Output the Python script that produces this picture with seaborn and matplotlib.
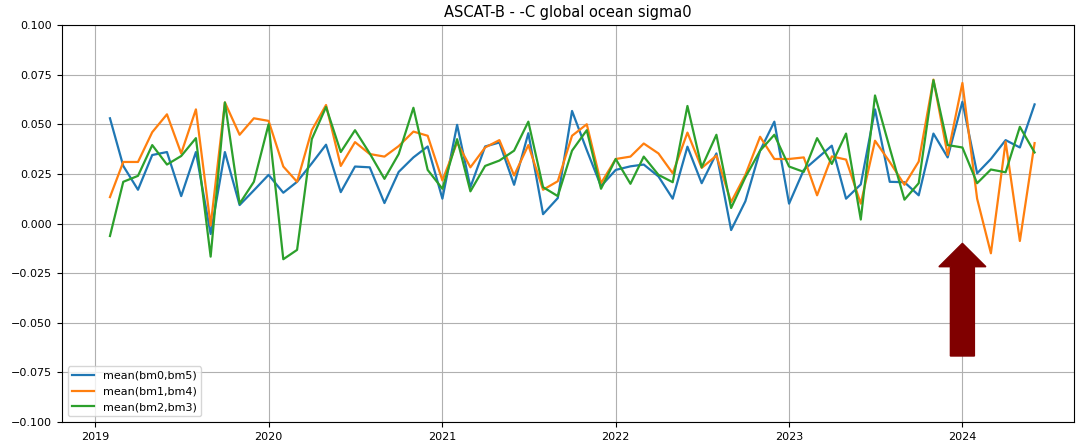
import numpy as np
import pandas as pd
import matplotlib
matplotlib.use("Agg")
import matplotlib.pyplot as plt
import seaborn as sns
from matplotlib.patches import FancyArrow

# ---- data ----
start_month = "2019-02-01"
n_months = 65
series_names = ["mean(bm0,bm5)", "mean(bm1,bm4)", "mean(bm2,bm3)"]

bm05 = [0.053, 0.029, 0.017, 0.0345, 0.036, 0.0138, 0.036, -0.0053, 0.036, 0.0093,
        0.0167, 0.0245, 0.0155, 0.021, 0.0303, 0.0397, 0.0158, 0.0287, 0.0283, 0.0103,
        0.026, 0.0333, 0.0388, 0.0125, 0.0497, 0.0183, 0.0388, 0.0408, 0.0195, 0.0455,
        0.0047, 0.0128, 0.0567, 0.037, 0.0188, 0.027, 0.0288, 0.0297, 0.0237, 0.0125,
        0.0387, 0.0203, 0.0353, -0.0033, 0.0112, 0.0367, 0.0513, 0.010, 0.027, 0.0328,
        0.0392, 0.0125, 0.0197, 0.0575, 0.021, 0.0208, 0.0142, 0.0453, 0.0333, 0.0613,
        0.0253, 0.0325, 0.042, 0.0383, 0.060]

bm14 = [0.0133, 0.031, 0.031, 0.046, 0.055, 0.0353, 0.0575, -0.001, 0.061, 0.0447,
        0.053, 0.0517, 0.0287, 0.021, 0.047, 0.0597, 0.029, 0.041, 0.035, 0.0337,
        0.039, 0.0463, 0.0442, 0.0217, 0.0408, 0.0283, 0.0383, 0.042, 0.0242, 0.0395,
        0.017, 0.0213, 0.0442, 0.050, 0.0203, 0.0325, 0.0337, 0.0403, 0.0353, 0.0253,
        0.0458, 0.028, 0.0342, 0.0108, 0.0245, 0.0437, 0.0325, 0.0325, 0.0333, 0.0142,
        0.0338, 0.0322, 0.010, 0.0417, 0.031, 0.0195, 0.0312, 0.0725, 0.0345, 0.0708,
        0.0125, -0.015, 0.0412, -0.0088, 0.0405]

bm23 = [-0.0063, 0.021, 0.024, 0.0395, 0.0297, 0.034, 0.043, -0.0167, 0.061, 0.010,
        0.021, 0.050, -0.018, -0.0133, 0.0425, 0.0587, 0.036, 0.047, 0.0353, 0.0225,
        0.035, 0.0583, 0.027, 0.0175, 0.0425, 0.0162, 0.029, 0.0317, 0.0367, 0.0513,
        0.0183, 0.0138, 0.0367, 0.047, 0.0175, 0.0325, 0.020, 0.0337, 0.0245, 0.0208,
        0.0592, 0.0283, 0.0447, 0.0078, 0.0233, 0.0367, 0.0447, 0.0287, 0.026, 0.043,
        0.030, 0.0453, 0.002, 0.0645, 0.038, 0.012, 0.0203, 0.0722, 0.0395, 0.0383,
        0.0203, 0.0272, 0.0258, 0.0487, 0.0358]

title = "ASCAT-B - -C global ocean sigma0"
arrow_date = "2024-01-01"
x_limits = ["2018-10-23", "2024-08-23"]
y_ticks = [-0.1, -0.075, -0.05, -0.025, 0.0, 0.025, 0.05, 0.075, 0.1]

# ---- build long-form table ----
dates = pd.date_range(start_month, periods=n_months, freq="MS")
df = pd.DataFrame({
    "date": np.tile(dates, 3),
    "value": np.concatenate([bm05, bm14, bm23]),
    "series": np.repeat(series_names, n_months),
})

plt.rcParams.update({
    "font.family": ["DejaVu Sans"],
    "font.size": 8,
    "xtick.labelsize": 8,
    "ytick.labelsize": 8,
    "legend.fontsize": 8,
})

fig = plt.figure(figsize=(10.81, 4.47), dpi=100)
ax = fig.add_axes([62 / 1081, 1 - 422 / 447, (1074 - 62) / 1081, (422 - 25) / 447])

palette = ["#1f77b4", "#ff7f0e", "#2ca02c"]
sns.lineplot(data=df, x="date", y="value", hue="series", hue_order=series_names,
             palette=palette, linewidth=1.6, ax=ax, legend=True)

ax.set_xlim(pd.Timestamp(x_limits[0]), pd.Timestamp(x_limits[1]))
ax.set_ylim(-0.1, 0.1)
ax.set_yticks(y_ticks)
ax.set_yticklabels([f"{v:.3f}".replace("-", "\u2212") for v in y_ticks])
ax.set_xlabel("")
ax.set_ylabel("")
ax.grid(True, color="#b0b0b0", linewidth=0.8)
ax.set_title(title, fontsize=10.5, pad=6)
ax.xaxis.set_major_locator(matplotlib.dates.YearLocator())
ax.xaxis.set_major_formatter(matplotlib.dates.DateFormatter("%Y"))

handles, labels = ax.get_legend_handles_labels()
ax.legend(handles, labels, loc="lower left", title=None)

# dark-red annotation arrow pointing at Jan 2024
xd = matplotlib.dates.date2num(pd.Timestamp(arrow_date))
x0, x1 = ax.get_xlim()
xa = (xd - x0) / (x1 - x0)
arrow = FancyArrow(xa, (422 - 356) / 397, 0, (356 - 243.3) / 397,
                   width=24 / 1012, head_width=47 / 1012, head_length=23.4 / 397,
                   length_includes_head=True, transform=ax.transAxes,
                   color="#800000", zorder=5)
ax.add_patch(arrow)

fig.savefig("out.png", dpi=100)
